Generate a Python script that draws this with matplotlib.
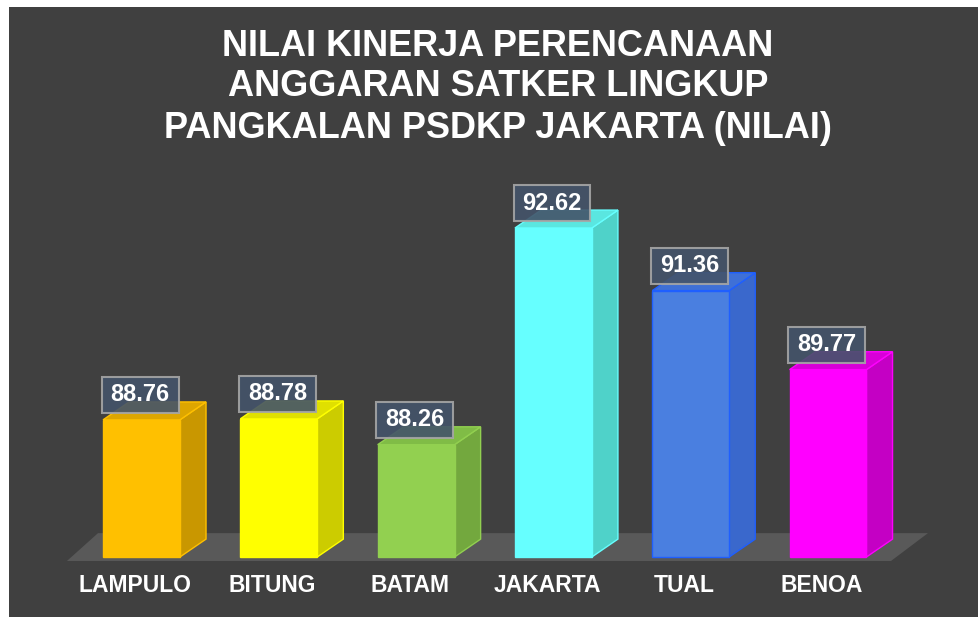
import matplotlib
matplotlib.use('Agg')
import matplotlib.pyplot as plt
from matplotlib.patches import Polygon, Rectangle

plt.rcParams['font.family'] = ['Liberation Sans', 'DejaVu Sans']

# data
categories = ['LAMPULO', 'BITUNG', 'BATAM', 'JAKARTA', 'TUAL', 'BENOA']
values = [88.76, 88.78, 88.26, 92.62, 91.36, 89.77]
value_labels = ['88.76', '88.78', '88.26', '92.62', '91.36', '89.77']
title_lines = ['NILAI KINERJA PERENCANAAN',
               'ANGGARAN SATKER LINGKUP',
               'PANGKALAN PSDKP JAKARTA (NILAI)']

front_colors = ['#FFC000', '#FFFF00', '#92D050', '#66FFFF', '#4A7FE0', '#FF00FF']
side_colors = ['#C99700', '#CCCC00', '#73A83E', '#4FD2C9', '#3A68CC', '#C400C4']
top_colors = ['#DDA600', '#E0E000', '#80BC46', '#5AE6E0', '#3F70D6', '#D800D8']
edge_colors = ['#FFC000', '#FFFF00', '#92D050', '#66FFFF', '#1F5FFF', '#FF00FF']

base = 86.0          # value at the floor line
width = 0.56         # bar width in category units
dx, dy = 0.19, 0.36  # 3d depth offset (category units, value units)

W, H = 979, 617
fig = plt.figure(figsize=(W / 100, H / 100), dpi=100)
fig.patch.set_facecolor('white')

# dark plot area, small white margin at left/top
left_px, top_px = 9, 7
ax = fig.add_axes([left_px / W, 0, (W - left_px) / W, (H - top_px) / H])
ax.set_facecolor('#404040')

# map: category i -> 141.5 + 137.3*i px, value -> 557 - 49.7*(v-base) px
x0_px, step_px = 141.5, 137.3
y0_px, unit_px = 557, 49.7
ax.set_xlim((left_px - x0_px) / step_px, (W - x0_px) / step_px)
ax.set_ylim(base - (H - y0_px) / unit_px, base + (y0_px - top_px) / unit_px)
ax.set_xticks([])
ax.set_yticks([])
for s in ax.spines.values():
    s.set_visible(False)

n = len(categories)
xs = list(range(n))

# floor
floor = Polygon([(-0.543, base - 0.08), (n - 1 + 0.459, base - 0.08),
                 (n - 1 + 0.728, base + 0.48), (-0.317, base + 0.48)],
                closed=True, facecolor='#595959', edgecolor='none', zorder=1)
ax.add_patch(floor)

# bars
for i, v in enumerate(values):
    xl = i - width / 2
    xr = i + width / 2
    side = Polygon([(xr, base), (xr + dx, base + dy), (xr + dx, v + dy), (xr, v)],
                   closed=True, facecolor=side_colors[i], edgecolor=edge_colors[i],
                   lw=1, zorder=2)
    top = Polygon([(xl, v), (xr, v), (xr + dx, v + dy), (xl + dx, v + dy)],
                  closed=True, facecolor=top_colors[i], edgecolor=edge_colors[i],
                  lw=1, zorder=2)
    ax.add_patch(side)
    ax.add_patch(top)

ax.bar(xs, [v - base for v in values], width=width, bottom=base,
       color=front_colors, edgecolor=edge_colors, linewidth=1, zorder=3)

# value label boxes
box_h = 0.72
for i, v in enumerate(values):
    cy = v + 0.5
    ax.add_patch(Rectangle((i - width / 2 - 0.01, cy - box_h / 2), width, box_h,
                           facecolor='#44546A', edgecolor='#A6A6A6', lw=1.5,
                           alpha=0.9, zorder=4))
    ax.text(i - 0.01, cy, value_labels[i], ha='center', va='center',
            fontsize=17, fontweight='bold', color='white', zorder=5)

# category labels
for i, c in enumerate(categories):
    ax.text(i - 0.045, base - 0.57, c, ha='center', va='center',
            fontsize=16.5, fontweight='bold', color='white')

# title
for k, line in enumerate(title_lines):
    fig.text(498 / W, 1 - (46 + 41 * k) / H, line, ha='center', va='center',
             fontsize=26, fontweight='bold', color='white')

plt.savefig('out.png', dpi=100, facecolor=fig.get_facecolor())
